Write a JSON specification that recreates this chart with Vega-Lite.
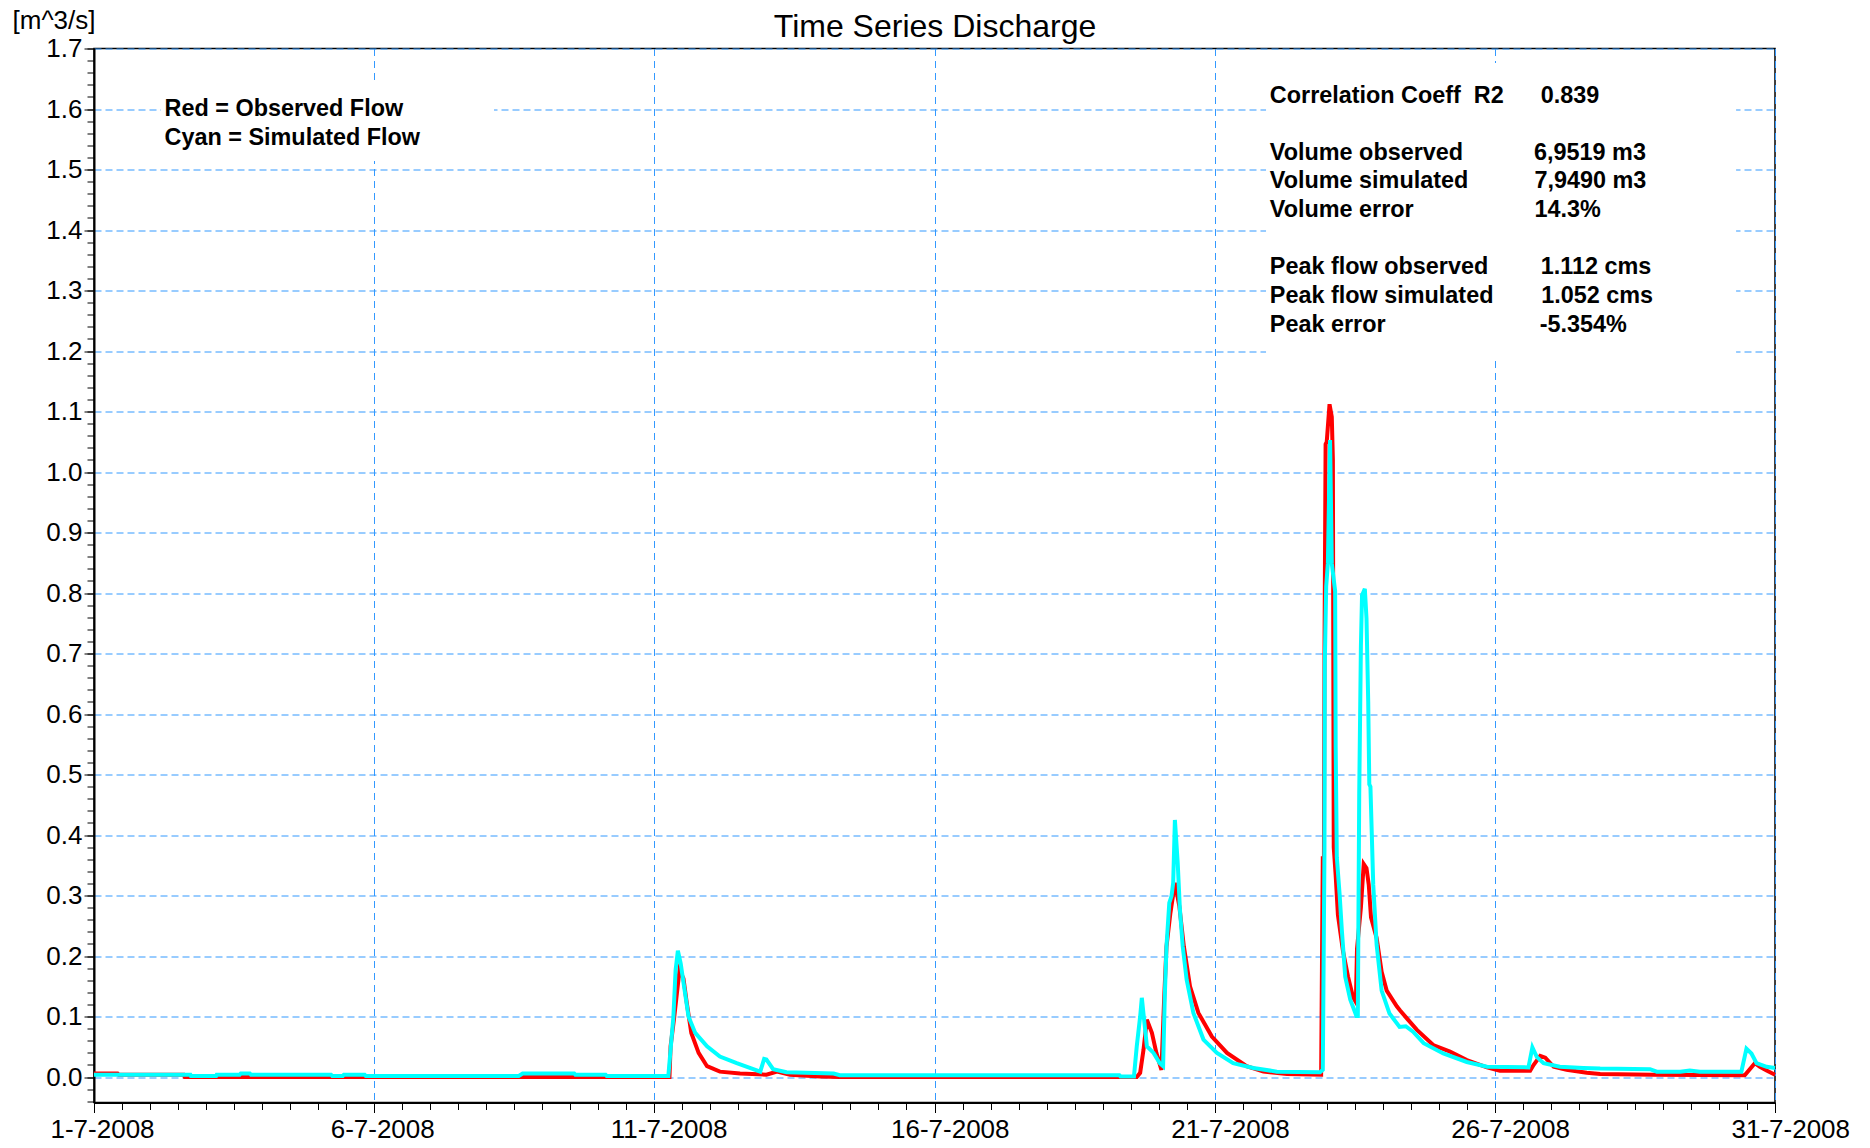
{
  "$schema": "https://vega.github.io/schema/vega-lite/v6.json",
  "autosize": "none",
  "width": 1681,
  "height": 1054,
  "padding": {"left": 94, "top": 48.5, "right": 95, "bottom": 45.5},
  "background": "white",
  "config": {
    "view": {"stroke": "black", "strokeWidth": 1.5},
    "font": "Liberation Sans"
  },
  "datasets": {
    "observed": [
      {"t": "2008-07-01T00:00", "v": 0.006},
      {"t": "2008-07-01T10:05", "v": 0.006},
      {"t": "2008-07-01T10:34", "v": 0.004},
      {"t": "2008-07-02T14:24", "v": 0.004},
      {"t": "2008-07-02T14:53", "v": 0.0},
      {"t": "2008-07-11T06:29", "v": 0.0},
      {"t": "2008-07-11T06:58", "v": 0.051},
      {"t": "2008-07-11T08:24", "v": 0.095},
      {"t": "2008-07-11T09:22", "v": 0.128},
      {"t": "2008-07-11T10:48", "v": 0.177},
      {"t": "2008-07-11T12:29", "v": 0.163},
      {"t": "2008-07-11T13:55", "v": 0.122},
      {"t": "2008-07-11T15:50", "v": 0.073},
      {"t": "2008-07-11T18:58", "v": 0.040},
      {"t": "2008-07-11T22:34", "v": 0.018},
      {"t": "2008-07-12T04:05", "v": 0.009},
      {"t": "2008-07-12T12:43", "v": 0.006},
      {"t": "2008-07-13T00:00", "v": 0.004},
      {"t": "2008-07-13T04:34", "v": 0.009},
      {"t": "2008-07-13T10:05", "v": 0.004},
      {"t": "2008-07-13T23:02", "v": 0.001},
      {"t": "2008-07-14T07:26", "v": 0.0},
      {"t": "2008-07-19T14:38", "v": 0.0},
      {"t": "2008-07-19T16:05", "v": 0.007},
      {"t": "2008-07-19T17:31", "v": 0.045},
      {"t": "2008-07-19T18:58", "v": 0.095},
      {"t": "2008-07-19T21:07", "v": 0.073},
      {"t": "2008-07-19T23:02", "v": 0.040},
      {"t": "2008-07-20T01:12", "v": 0.012},
      {"t": "2008-07-20T02:24", "v": 0.133},
      {"t": "2008-07-20T03:22", "v": 0.216},
      {"t": "2008-07-20T05:02", "v": 0.271},
      {"t": "2008-07-20T06:58", "v": 0.321},
      {"t": "2008-07-20T08:53", "v": 0.282},
      {"t": "2008-07-20T10:48", "v": 0.216},
      {"t": "2008-07-20T13:26", "v": 0.150},
      {"t": "2008-07-20T17:02", "v": 0.106},
      {"t": "2008-07-20T22:48", "v": 0.067},
      {"t": "2008-07-21T05:17", "v": 0.040},
      {"t": "2008-07-21T13:41", "v": 0.018},
      {"t": "2008-07-21T20:53", "v": 0.009},
      {"t": "2008-07-22T06:58", "v": 0.005},
      {"t": "2008-07-22T21:36", "v": 0.004},
      {"t": "2008-07-22T22:19", "v": 0.365},
      {"t": "2008-07-22T22:48", "v": 0.360},
      {"t": "2008-07-22T23:02", "v": 0.697},
      {"t": "2008-07-22T23:31", "v": 1.046},
      {"t": "2008-07-23T00:00", "v": 1.050},
      {"t": "2008-07-23T01:12", "v": 1.112},
      {"t": "2008-07-23T02:10", "v": 1.091},
      {"t": "2008-07-23T02:38", "v": 1.020},
      {"t": "2008-07-23T03:00", "v": 0.380},
      {"t": "2008-07-23T03:50", "v": 0.333},
      {"t": "2008-07-23T04:48", "v": 0.268},
      {"t": "2008-07-23T06:58", "v": 0.208},
      {"t": "2008-07-23T09:07", "v": 0.166},
      {"t": "2008-07-23T11:17", "v": 0.132},
      {"t": "2008-07-23T12:29", "v": 0.124},
      {"t": "2008-07-23T12:58", "v": 0.212},
      {"t": "2008-07-23T14:38", "v": 0.280},
      {"t": "2008-07-23T15:50", "v": 0.352},
      {"t": "2008-07-23T17:02", "v": 0.345},
      {"t": "2008-07-23T18:00", "v": 0.318},
      {"t": "2008-07-23T18:58", "v": 0.264},
      {"t": "2008-07-23T21:22", "v": 0.230},
      {"t": "2008-07-23T23:31", "v": 0.174},
      {"t": "2008-07-24T01:41", "v": 0.143},
      {"t": "2008-07-24T06:00", "v": 0.117},
      {"t": "2008-07-24T07:26", "v": 0.110},
      {"t": "2008-07-24T10:19", "v": 0.097},
      {"t": "2008-07-24T14:38", "v": 0.078},
      {"t": "2008-07-24T21:36", "v": 0.053},
      {"t": "2008-07-25T04:48", "v": 0.042},
      {"t": "2008-07-25T12:00", "v": 0.028},
      {"t": "2008-07-25T20:38", "v": 0.016},
      {"t": "2008-07-26T02:10", "v": 0.0105},
      {"t": "2008-07-26T15:07", "v": 0.0105},
      {"t": "2008-07-26T16:34", "v": 0.020},
      {"t": "2008-07-26T19:26", "v": 0.035},
      {"t": "2008-07-26T21:36", "v": 0.032},
      {"t": "2008-07-27T01:12", "v": 0.017},
      {"t": "2008-07-27T06:43", "v": 0.012},
      {"t": "2008-07-27T15:22", "v": 0.007},
      {"t": "2008-07-27T21:07", "v": 0.005},
      {"t": "2008-07-28T19:41", "v": 0.004},
      {"t": "2008-07-30T11:02", "v": 0.003},
      {"t": "2008-07-30T15:22", "v": 0.023},
      {"t": "2008-07-30T17:31", "v": 0.017},
      {"t": "2008-07-30T20:24", "v": 0.011},
      {"t": "2008-07-31T00:00", "v": 0.004}
    ],
    "simulated": [
      {"t": "2008-07-01T00:00", "v": 0.004},
      {"t": "2008-07-02T17:17", "v": 0.004},
      {"t": "2008-07-02T17:31", "v": 0.002},
      {"t": "2008-07-03T04:19", "v": 0.002},
      {"t": "2008-07-03T04:34", "v": 0.004},
      {"t": "2008-07-03T14:24", "v": 0.004},
      {"t": "2008-07-03T14:53", "v": 0.006},
      {"t": "2008-07-03T18:43", "v": 0.006},
      {"t": "2008-07-03T19:12", "v": 0.004},
      {"t": "2008-07-05T05:31", "v": 0.004},
      {"t": "2008-07-05T06:00", "v": 0.002},
      {"t": "2008-07-05T10:34", "v": 0.002},
      {"t": "2008-07-05T11:02", "v": 0.004},
      {"t": "2008-07-05T19:55", "v": 0.004},
      {"t": "2008-07-05T20:24", "v": 0.002},
      {"t": "2008-07-08T13:55", "v": 0.002},
      {"t": "2008-07-08T15:36", "v": 0.006},
      {"t": "2008-07-09T13:41", "v": 0.006},
      {"t": "2008-07-09T14:10", "v": 0.004},
      {"t": "2008-07-10T03:07", "v": 0.004},
      {"t": "2008-07-10T03:36", "v": 0.002},
      {"t": "2008-07-11T06:00", "v": 0.002},
      {"t": "2008-07-11T08:10", "v": 0.100},
      {"t": "2008-07-11T09:07", "v": 0.177},
      {"t": "2008-07-11T10:05", "v": 0.209},
      {"t": "2008-07-11T11:17", "v": 0.188},
      {"t": "2008-07-11T14:38", "v": 0.100},
      {"t": "2008-07-11T17:31", "v": 0.073},
      {"t": "2008-07-11T22:34", "v": 0.051},
      {"t": "2008-07-12T04:05", "v": 0.034},
      {"t": "2008-07-12T11:17", "v": 0.023},
      {"t": "2008-07-12T21:22", "v": 0.009},
      {"t": "2008-07-12T23:02", "v": 0.030},
      {"t": "2008-07-13T00:00", "v": 0.029},
      {"t": "2008-07-13T02:53", "v": 0.013},
      {"t": "2008-07-13T08:38", "v": 0.008},
      {"t": "2008-07-14T04:48", "v": 0.006},
      {"t": "2008-07-14T07:26", "v": 0.003},
      {"t": "2008-07-19T07:12", "v": 0.003},
      {"t": "2008-07-19T07:41", "v": 0.001},
      {"t": "2008-07-19T13:26", "v": 0.001},
      {"t": "2008-07-19T14:38", "v": 0.051},
      {"t": "2008-07-19T16:05", "v": 0.100},
      {"t": "2008-07-19T16:48", "v": 0.131},
      {"t": "2008-07-19T17:46", "v": 0.095},
      {"t": "2008-07-19T18:58", "v": 0.051},
      {"t": "2008-07-19T21:50", "v": 0.040},
      {"t": "2008-07-20T00:29", "v": 0.023},
      {"t": "2008-07-20T01:55", "v": 0.018},
      {"t": "2008-07-20T02:38", "v": 0.133},
      {"t": "2008-07-20T03:22", "v": 0.216},
      {"t": "2008-07-20T04:34", "v": 0.288},
      {"t": "2008-07-20T05:31", "v": 0.299},
      {"t": "2008-07-20T06:14", "v": 0.321},
      {"t": "2008-07-20T06:58", "v": 0.425},
      {"t": "2008-07-20T08:10", "v": 0.354},
      {"t": "2008-07-20T09:07", "v": 0.277},
      {"t": "2008-07-20T10:19", "v": 0.216},
      {"t": "2008-07-20T12:00", "v": 0.161},
      {"t": "2008-07-20T14:53", "v": 0.106},
      {"t": "2008-07-20T19:12", "v": 0.062},
      {"t": "2008-07-21T00:58", "v": 0.040},
      {"t": "2008-07-21T07:55", "v": 0.023},
      {"t": "2008-07-21T16:34", "v": 0.015},
      {"t": "2008-07-22T02:38", "v": 0.009},
      {"t": "2008-07-22T21:07", "v": 0.008},
      {"t": "2008-07-22T22:19", "v": 0.012},
      {"t": "2008-07-22T23:02", "v": 0.378},
      {"t": "2008-07-22T23:10", "v": 0.682},
      {"t": "2008-07-22T23:46", "v": 0.811},
      {"t": "2008-07-23T00:29", "v": 0.849},
      {"t": "2008-07-23T01:26", "v": 1.053},
      {"t": "2008-07-23T02:10", "v": 0.849},
      {"t": "2008-07-23T03:36", "v": 0.803},
      {"t": "2008-07-23T03:50", "v": 0.545},
      {"t": "2008-07-23T04:19", "v": 0.363},
      {"t": "2008-07-23T05:31", "v": 0.302},
      {"t": "2008-07-23T06:29", "v": 0.242},
      {"t": "2008-07-23T07:55", "v": 0.166},
      {"t": "2008-07-23T10:05", "v": 0.128},
      {"t": "2008-07-23T12:43", "v": 0.101},
      {"t": "2008-07-23T13:19", "v": 0.101},
      {"t": "2008-07-23T13:55", "v": 0.469},
      {"t": "2008-07-23T14:38", "v": 0.712},
      {"t": "2008-07-23T15:07", "v": 0.796},
      {"t": "2008-07-23T16:19", "v": 0.807},
      {"t": "2008-07-23T17:02", "v": 0.758},
      {"t": "2008-07-23T17:46", "v": 0.621},
      {"t": "2008-07-23T18:14", "v": 0.484},
      {"t": "2008-07-23T18:43", "v": 0.480},
      {"t": "2008-07-23T19:55", "v": 0.318},
      {"t": "2008-07-23T21:22", "v": 0.219},
      {"t": "2008-07-23T23:31", "v": 0.143},
      {"t": "2008-07-24T02:53", "v": 0.105},
      {"t": "2008-07-24T07:12", "v": 0.083},
      {"t": "2008-07-24T09:50", "v": 0.084},
      {"t": "2008-07-24T12:58", "v": 0.075},
      {"t": "2008-07-24T17:31", "v": 0.056},
      {"t": "2008-07-25T01:55", "v": 0.039},
      {"t": "2008-07-25T12:00", "v": 0.025},
      {"t": "2008-07-25T20:38", "v": 0.017},
      {"t": "2008-07-26T14:24", "v": 0.016},
      {"t": "2008-07-26T16:05", "v": 0.049},
      {"t": "2008-07-26T18:00", "v": 0.033},
      {"t": "2008-07-26T20:53", "v": 0.023},
      {"t": "2008-07-27T03:50", "v": 0.017},
      {"t": "2008-07-27T13:55", "v": 0.015},
      {"t": "2008-07-27T21:07", "v": 0.014},
      {"t": "2008-07-28T18:29", "v": 0.013},
      {"t": "2008-07-28T21:22", "v": 0.009},
      {"t": "2008-07-29T07:26", "v": 0.009},
      {"t": "2008-07-29T11:31", "v": 0.011},
      {"t": "2008-07-29T15:50", "v": 0.009},
      {"t": "2008-07-30T09:36", "v": 0.009},
      {"t": "2008-07-30T11:46", "v": 0.047},
      {"t": "2008-07-30T13:55", "v": 0.039},
      {"t": "2008-07-30T16:05", "v": 0.023},
      {"t": "2008-07-30T20:24", "v": 0.017},
      {"t": "2008-07-31T00:00", "v": 0.015}
    ],
    "boxes": [
      {"t1": "2008-07-02T04:42", "t2": "2008-07-08T03:20", "v1": 1.643, "v2": 1.514},
      {"t1": "2008-07-21T22:00", "t2": "2008-07-30T07:20", "v1": 1.676, "v2": 1.190}
    ],
    "notes": [
      {"t": "2008-07-02T06:14", "v": 1.588, "label": "Red = Observed Flow"},
      {"t": "2008-07-02T06:14", "v": 1.5405, "label": "Cyan = Simulated Flow"},
      {"t": "2008-07-21T23:38", "v": 1.6104, "label": "Correlation Coeff\u00a0 R2"},
      {"t": "2008-07-26T19:38", "v": 1.6104, "label": "0.839"},
      {"t": "2008-07-21T23:38", "v": 1.5157, "label": "Volume observed"},
      {"t": "2008-07-26T16:48", "v": 1.5157, "label": "6,9519 m3"},
      {"t": "2008-07-21T23:38", "v": 1.4689, "label": "Volume simulated"},
      {"t": "2008-07-26T17:00", "v": 1.4689, "label": "7,9490 m3"},
      {"t": "2008-07-21T23:38", "v": 1.4220, "label": "Volume error"},
      {"t": "2008-07-26T17:00", "v": 1.4220, "label": "14.3%"},
      {"t": "2008-07-21T23:38", "v": 1.3268, "label": "Peak flow observed"},
      {"t": "2008-07-26T19:38", "v": 1.3268, "label": "1.112 cms"},
      {"t": "2008-07-21T23:38", "v": 1.2788, "label": "Peak flow simulated"},
      {"t": "2008-07-26T19:50", "v": 1.2788, "label": "1.052 cms"},
      {"t": "2008-07-21T23:38", "v": 1.2319, "label": "Peak error"},
      {"t": "2008-07-26T19:12", "v": 1.2319, "label": "-5.354%"}
    ]
  },
  "layer": [
    {
      "data": {"name": "observed"},
      "mark": {"type": "line", "color": "#ff0000", "strokeWidth": 4},
      "encoding": {
        "x": {
          "field": "t", "type": "temporal",
          "scale": {"domain": [{"year": 2008, "month": 7, "date": 1}, {"year": 2008, "month": 7, "date": 31}], "nice": false},
          "axis": {
            "orient": "bottom",
            "title": "Time Series Discharge",
            "titleFont": "Liberation Sans", "titleFontSize": 32, "titleFontWeight": "normal", "titleColor": "black",
            "titleAlign": "center", "titleBaseline": "alphabetic", "titleX": 840.5, "titleY": -1066.5,
            "values": [
              {"year": 2008, "month": 7, "date": 1}, {"year": 2008, "month": 7, "date": 6},
              {"year": 2008, "month": 7, "date": 11}, {"year": 2008, "month": 7, "date": 16},
              {"year": 2008, "month": 7, "date": 21}, {"year": 2008, "month": 7, "date": 26},
              {"year": 2008, "month": 7, "date": 31}
            ],
            "format": "%-d-%-m-%Y",
            "labelFont": "Liberation Sans", "labelFontSize": 26, "labelColor": "black",
            "labelAlign": "left", "labelOffset": -44,
            "labelPadding": 4, "labelOverlap": false, "labelFlush": false,
            "tickSize": 10, "tickColor": "black", "tickWidth": 1,
            "domainColor": "black", "domainWidth": 2,
            "grid": true, "gridColor": "#3399ff", "gridWidth": 1, "gridDash": [7, 5]
          }
        },
        "y": {
          "field": "v", "type": "quantitative",
          "scale": {"domain": [-0.042, 1.7], "nice": false, "zero": false},
          "axis": {
            "orient": "left",
            "title": "[m^3/s]", "titleAngle": 0, "titleAlign": "left", "titleBaseline": "alphabetic",
            "titleX": -82, "titleY": -20.5, "titleFont": "Liberation Sans", "titleFontSize": 26,
            "titleFontWeight": "normal", "titleColor": "black",
            "values": [0, 0.1, 0.2, 0.3, 0.4, 0.5, 0.6, 0.7, 0.8, 0.9, 1.0, 1.1, 1.2, 1.3, 1.4, 1.5, 1.6, 1.7],
            "format": ".1f",
            "labelFont": "Liberation Sans", "labelFontSize": 26, "labelColor": "black",
            "labelPadding": 2, "labelOverlap": false,
            "tickSize": 10, "tickColor": "black", "tickWidth": 1,
            "domainColor": "black", "domainWidth": 2,
            "grid": true, "gridColor": "#3399ff", "gridWidth": 1, "gridDash": [7, 4]
          }
        }
      }
    },
    {
      "data": {"name": "simulated"},
      "mark": {"type": "line", "color": "#00ffff", "strokeWidth": 4},
      "encoding": {
        "x": {
          "field": "t", "type": "temporal",
          "axis": {"orient": "bottom", "title": null, "tickCount": 60, "labels": false, "grid": false, "domain": false, "ticks": true, "tickSize": 7, "tickColor": "black", "tickWidth": 1}
        },
        "y": {
          "field": "v", "type": "quantitative",
          "axis": {
            "orient": "left", "title": null, "labels": false, "grid": false, "domain": false, "ticks": true, "tickSize": 7, "tickColor": "black", "tickWidth": 1,
            "values": [-0.04, -0.02, 0, 0.02, 0.04, 0.06, 0.08, 0.1, 0.12, 0.14, 0.16, 0.18, 0.2, 0.22, 0.24, 0.26, 0.28, 0.3, 0.32, 0.34, 0.36, 0.38, 0.4, 0.42, 0.44, 0.46, 0.48, 0.5, 0.52, 0.54, 0.56, 0.58, 0.6, 0.62, 0.64, 0.66, 0.68, 0.7, 0.72, 0.74, 0.76, 0.78, 0.8, 0.82, 0.84, 0.86, 0.88, 0.9, 0.92, 0.94, 0.96, 0.98, 1.0, 1.02, 1.04, 1.06, 1.08, 1.1, 1.12, 1.14, 1.16, 1.18, 1.2, 1.22, 1.24, 1.26, 1.28, 1.3, 1.32, 1.34, 1.36, 1.38, 1.4, 1.42, 1.44, 1.46, 1.48, 1.5, 1.52, 1.54, 1.56, 1.58, 1.6, 1.62, 1.64, 1.66, 1.68, 1.7]
          }
        }
      }
    },
    {
      "data": {"name": "boxes"},
      "mark": {"type": "rect", "fill": "white", "strokeWidth": 0},
      "encoding": {
        "x": {"field": "t1", "type": "temporal", "axis": null},
        "x2": {"field": "t2"},
        "y": {"field": "v1", "type": "quantitative", "axis": null},
        "y2": {"field": "v2"}
      }
    },
    {
      "data": {"name": "notes"},
      "mark": {"type": "text", "align": "left", "baseline": "alphabetic", "font": "Liberation Sans", "fontWeight": "bold", "fontSize": 23.4, "color": "black"},
      "encoding": {
        "x": {"field": "t", "type": "temporal", "axis": null},
        "y": {"field": "v", "type": "quantitative", "axis": null},
        "text": {"field": "label", "type": "nominal"}
      }
    }
  ],
  "resolve": {"axis": {"x": "independent", "y": "independent"}}
}
